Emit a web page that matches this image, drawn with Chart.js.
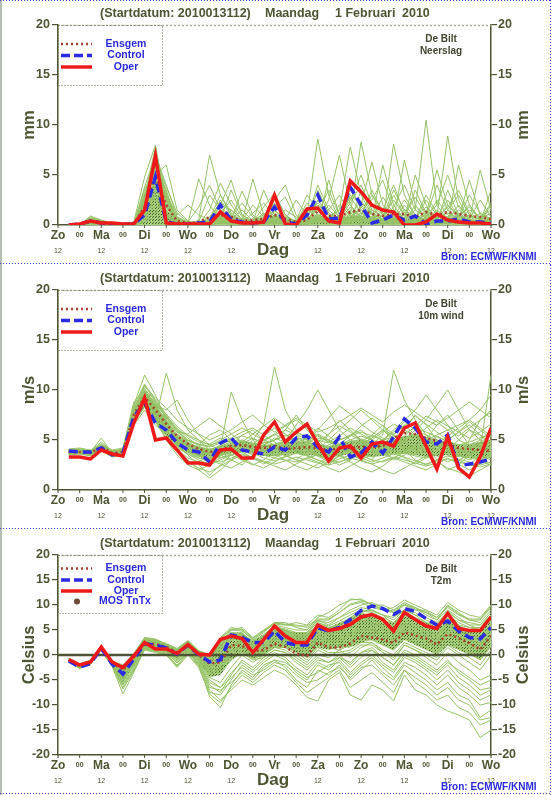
<!DOCTYPE html>
<html>
<head>
<meta charset="utf-8">
<script src="https://cdn.jsdelivr.net/npm/chart.js@4.4.1/dist/chart.umd.min.js"></script>
<style>
  html, body { margin: 0; padding: 0; background: #fff; }
  #wrap { position: relative; width: 554px; height: 795px; }
  canvas { position: absolute; left: 0; }
</style>
</head>
<body>
<div id="wrap">
  <canvas id="c1" width="554" height="265" style="top:0px"></canvas>
  <canvas id="c2" width="554" height="265" style="top:265px"></canvas>
  <canvas id="c3" width="554" height="265" style="top:530px"></canvas>
</div>
<script>
// =========================
// DATA (6-hourly, +6h .. +240h from 2010013112)
// =========================
const hours = [6,12,18,24,30,36,42,48,54,60,66,72,78,84,90,96,102,108,114,120,
               126,132,138,144,150,156,162,168,174,180,186,192,198,204,210,216,222,228,234,240];
const dayNames = ["Zo","Ma","Di","Wo","Do","Vr","Za","Zo","Ma","Di","Wo"];

const precipTicks = [0, 5, 10, 15, 20];
const windTicks   = [0, 5, 10, 15, 20];
const tempTicks   = [-20, -15, -10, -5, 0, 5, 10, 15, 20];

// ---- Neerslag (mm) ----
const precipOper    = [0,0.1,0.4,0.2,0.2,0.1,0.1,1.5,6.9,0.2,0.1,0.1,0.1,0.1,1.3,0.4,0.2,0.2,0.3,3.0,0.1,0,1.6,1.7,0.4,0.2,4.4,3.3,2.0,1.5,1.3,0,0,0.3,1.1,0.5,0.3,0.2,0.2,0.1];
const precipControl = [0,0.1,0.4,0.2,0.1,0.1,0.1,1.0,4.8,0.3,0.1,0.1,0.2,0.3,2.0,0.5,0.3,0.2,0.3,1.8,0.3,0.1,1.0,3.0,0.6,0.7,3.8,2.0,0.2,0.5,1.0,0.5,0.9,0.1,0.4,0.4,0.6,0.3,0.3,0.2];
const precipEnsgem  = [0,0,0.4,0.2,0.1,0,0.1,1.8,4.9,2.0,0.4,0.2,0.3,0.8,1.0,0.8,0.4,0.5,0.6,1.0,0.6,0.3,0.5,1.4,0.9,0.9,1.3,1.5,1.1,0.9,1.1,1.1,0.8,1.3,1.0,1.3,1.1,0.9,0.8,0.6];
const precipCoreLo  = [0,0,0,0,0,0,0,0,0,0,0,0,0,0,0,0,0,0,0,0,0,0,0,0,0,0,0,0,0,0,0,0,0,0,0,0,0,0,0,0];
const precipCoreHi  = [0.1,0.1,0.6,0.4,0.2,0.1,0.2,2.0,4.5,1.5,0.4,0.2,0.2,0.4,0.9,0.6,0.4,0.4,0.5,0.9,0.5,0.3,0.4,0.8,0.6,0.6,0.9,0.9,0.7,0.6,0.7,0.6,0.6,0.7,0.6,0.7,0.6,0.5,0.5,0.4];
const precipMembers = [
  [0,0,0.3,0.1,0.2,0,0,2.0,7.5,3.0,0.5,0.1,0,0.2,2.5,1.0,0.3,0.2,0.5,1.5,0.4,0.1,0.3,2.0,1.0,0.5,3.0,2.0,1.0,0.3,0.8,2.5,1.0,0.4,0.2,1.5,3.0,1.0,0.5,0.3],
  [0,0.1,0.6,0.3,0.1,0,0.1,3.5,6.0,1.2,0.2,0,0.1,1.5,4.2,2.0,0.5,0.2,0.1,0.8,0.2,0,1.0,8.6,3.0,0.5,0.2,1.0,3.5,1.2,0.5,0.3,2.0,0.6,0.2,0.3,0.8,2.0,0.6,0.2],
  [0,0,0.4,0.2,0.3,0.1,0,1.0,5.0,6.0,1.5,0.4,0.2,0.1,0.5,3.5,1.0,0.3,1.8,3.2,1.0,0.2,0.1,0.5,2.5,7.0,2.0,0.8,0.5,1.5,4.0,1.2,0.3,0.1,0.5,2.0,1.0,0.4,1.2,0.6],
  [0,0,0.2,0.1,0,0,0.3,4.8,8.0,2.0,0.3,0.1,0,0,0.2,0.5,3.4,1.0,0.2,0.1,0.5,2.5,1.0,0.3,0.8,1.5,7.8,3.0,1.0,0.2,0.1,0.5,1.5,10.5,2.0,0.5,0.3,0.2,0.8,1.5],
  [0,0,0.5,0.2,0.1,0,0,2.5,4.0,1.0,0.2,0,0.5,7.0,3.0,1.0,0.3,4.6,1.0,0.3,0.2,0.1,0.2,1.0,0.5,0.3,1.0,8.3,3.0,1.5,0.5,0.2,0.1,1.5,0.8,8.9,2.5,0.5,0.2,0.1],
  [0,0,0.8,0.4,0.2,0.1,0,1.5,3.0,0.8,0.1,0,0.2,0.4,1.0,0.5,0.2,0.1,0.3,2.5,4.0,1.0,0.3,0.2,4.5,1.0,0.5,2.0,6.3,2.0,0.8,0.4,0.2,0.5,2.5,1.0,0.5,0.3,0.2,3.5],
  [0,0,0.3,0.2,0.1,0,0,3.0,7.0,4.0,0.8,0.2,0,0.1,0.6,1.0,0.5,2.0,0.8,0.5,0.2,0.4,3.0,1.5,0.5,0.2,0.8,1.5,0.5,6.0,2.0,0.5,0.2,0.8,4.0,1.5,0.5,4.5,1.0,0.5],
  [0,0,0.2,0.1,0.1,0,0,0.5,2.0,1.5,0.5,0.2,4.6,2.0,0.5,0.2,0.1,0.3,3.5,1.0,0.3,0.1,0.2,0.8,0.4,2.0,1.0,0.5,0.3,0.2,8.1,3.0,1.0,0.5,0.3,0.2,6.0,2.0,0.5,0.2],
  [0,0,0.4,0.3,0.2,0.1,0,2.0,5.5,2.5,0.4,0.1,0,0.3,2.0,4.5,1.0,0.4,0.2,1.0,0.5,0.2,0.1,0.3,1.5,3.0,1.0,0.4,2.0,1.0,0.5,6.5,2.0,0.5,0.2,0.4,1.0,0.5,5.5,1.5],
  [0,0,0.6,0.2,0.1,0,0,1.8,6.5,1.5,0.3,0.1,0.1,0.2,0.8,0.4,0.2,0.5,1.0,2.0,0.8,0.3,0.5,3.5,1.2,0.5,4.0,1.5,0.5,0.3,1.5,0.6,5.0,2.0,0.5,0.2,0.3,1.5,0.8,0.4],
  [0,0,0.3,0.1,0,0,0,1.2,4.5,3.0,1.0,2.0,1.0,0.5,0.3,0.2,0.1,0.2,0.4,0.6,0.3,0.2,0.1,2.5,1.0,0.3,0.2,3.5,1.2,0.5,3.0,1.0,0.4,2.5,1.0,0.5,2.0,0.6,0.3,0.8],
  [0,0,0.9,0.5,0.2,0.1,0,2.8,7.8,2.0,0.2,0,0,0.1,1.5,0.8,0.3,0.1,0.2,3.0,1.0,0.3,0.2,0.5,0.3,0.8,2.5,5.0,2.0,0.5,0.2,0.1,0.5,1.0,5.5,2.0,0.8,0.3,0.2,0.1],
  [0,0,0.2,0.1,0.1,0,0,1.0,3.5,2.0,0.6,0.2,0.3,3.0,1.5,0.5,0.2,0.1,0.3,0.5,0.2,0.1,1.5,0.8,0.4,0.2,0.4,1.0,3.0,1.0,0.5,0.3,0.2,0.6,0.3,3.5,1.0,0.4,0.3,2.0],
  [0,0.1,0.5,0.2,0.1,0,0,2.2,6.0,3.5,0.3,0.1,0,0.2,0.5,0.2,0.1,0.3,1.2,0.4,0.2,0.1,0.3,1.8,0.6,0.3,1.5,0.8,0.3,0.2,0.5,2.0,0.8,0.3,0.2,0.4,1.2,0.5,0.2,0.2],
  [0,0,0.4,0.2,0.1,0,0,0.8,2.5,0.8,0.2,0,0,0.1,0.3,1.5,0.5,0.2,0.1,0.2,0.1,0,0.2,0.5,0.3,1.0,0.5,0.3,0.8,0.4,0.2,0.4,0.3,0.8,0.4,0.3,0.5,0.3,0.2,0.1],
  [0,0,0.3,0.1,0.1,0,0,1.5,5.0,1.0,0.2,0,0.1,0.5,1.0,0.3,0.1,0.1,0.4,1.0,0.3,0.2,0.5,1.0,0.5,0.3,1.2,0.6,0.4,0.3,1.0,0.5,0.3,1.2,0.6,0.5,1.0,0.4,0.2,0.1],
  [0,0,0.2,0.1,0,0,0,3.2,4.5,2.0,0.5,0.1,0,0.1,0.4,0.2,0.1,0.6,0.2,0.3,0.2,0.1,0.4,0.6,0.3,0.2,0.6,1.2,0.5,0.4,0.6,0.3,0.2,0.4,0.5,0.2,0.4,0.6,0.3,0.2],
  [0,0,0.5,0.3,0.1,0,0,2.0,6.8,2.5,0.4,0.1,0,0,0.2,0.6,1.5,0.4,0.2,0.4,0.6,0.3,0.2,0.4,0.8,0.4,0.3,0.6,0.3,1.0,0.5,0.3,0.6,0.3,0.2,0.8,0.4,0.3,0.5,0.3],
  [0,0,0.3,0.2,0.1,0,0,1.0,4.0,1.8,0.3,0.1,0.1,0.3,0.8,0.4,0.2,0.2,0.3,0.6,0.3,0.2,0.3,0.8,0.4,0.6,0.4,0.3,0.5,0.6,0.3,0.4,0.5,0.3,0.6,0.4,0.3,0.2,0.4,0.3],
  [0,0,0.1,0.1,0,0,0,0.3,1.5,0.5,0.1,0,0,0.1,0.2,0.1,0,0.1,0.1,0.2,0.1,0,0.1,0.3,0.2,0.1,0.2,0.1,0.3,0.2,0.1,0.2,0.1,0.2,0.1,0.2,0.1,0.1,0.2,0.1],
  [0,0,0.5,0.3,0.2,0,0,2.4,7.2,1.8,0.3,0.1,0.2,0.6,3.0,1.2,0.4,0.3,0.8,2.2,0.6,0.2,0.6,4.0,1.5,0.6,2.2,4.0,1.5,0.8,2.5,1.0,0.6,3.0,1.2,0.8,1.5,0.6,2.5,0.8],
  [0,0,0.3,0.2,0.1,0,0,1.6,5.8,2.8,0.6,0.2,0.1,0.3,1.2,2.5,0.8,0.2,0.5,1.8,2.8,0.5,0.2,1.2,3.5,1.0,0.6,1.8,2.5,4.5,1.5,0.6,3.5,1.2,0.6,1.8,3.5,1.2,0.5,0.3],
  [0,0,0.6,0.3,0.1,0,0,1.2,4.2,2.2,0.8,0.3,1.8,4.0,1.5,0.6,0.3,0.5,0.8,0.6,0.3,0.2,0.8,2.2,1.0,0.8,2.8,1.2,0.8,0.5,1.8,4.0,1.5,0.8,2.0,5.0,1.8,0.8,0.6,1.2],
  [0,0,0.2,0.1,0,0,0,2.6,6.4,3.2,0.5,0.1,0,0.2,0.8,0.5,0.3,1.2,2.2,0.8,0.3,0.1,0.4,1.0,0.6,1.5,3.5,1.8,0.6,2.8,1.2,0.5,0.8,1.8,0.7,1.2,0.6,3.0,1.2,0.5],
  [0,0,0.4,0.2,0.1,0,0.1,3.8,7.0,2.2,0.4,0.1,0.1,0.4,1.8,0.8,0.3,0.2,0.6,1.2,0.5,0.3,2.2,1.0,0.5,0.3,1.0,2.4,1.0,0.6,0.4,1.5,0.8,0.5,1.5,0.6,0.4,1.0,0.5,2.2],
  [0,0,0.7,0.4,0.2,0.1,0,1.4,4.6,1.2,0.2,0.1,0.2,0.8,2.2,1.5,0.6,0.3,0.2,0.5,1.5,0.8,0.3,0.6,2.0,0.8,0.5,0.8,1.5,0.8,3.5,1.5,0.6,0.4,0.8,2.5,0.9,0.4,0.3,0.6],
  [0,0,0.3,0.2,0.1,0,0,2.1,5.3,2.6,0.7,0.2,0.1,0.2,0.6,0.8,2.2,0.8,0.3,0.9,0.5,0.2,0.5,1.5,0.7,0.4,1.8,0.9,0.5,0.3,0.6,1.0,2.8,1.0,0.5,0.3,0.8,1.8,0.7,0.3],
  [0,0,0.5,0.3,0.2,0.1,0,1.7,6.1,2.0,0.4,0.1,0,0.1,0.5,0.3,0.2,0.4,0.6,1.4,0.8,0.4,0.3,0.9,0.5,0.3,0.7,0.5,1.2,0.6,0.4,0.8,0.5,1.4,0.6,0.4,0.9,0.5,0.3,0.7],
  [0,0,0.2,0.1,0,0,0,0.6,3.0,1.0,0.2,0,0,0.1,0.4,0.2,0.1,0.2,0.3,0.4,0.2,0.1,0.2,0.5,0.3,0.2,0.4,0.7,0.3,0.2,0.5,0.3,0.2,0.4,0.3,0.5,0.3,0.2,0.4,0.2],
  [0,0,0.4,0.2,0.1,0,0,2.9,6.6,3.8,1.2,0.3,0.1,0.2,1.0,0.6,0.3,0.2,0.4,0.8,0.4,0.2,0.3,0.7,0.4,0.3,0.5,0.9,0.6,0.4,0.7,0.5,0.3,0.6,0.4,0.7,0.5,0.4,0.3,0.5]
];

// ---- 10m wind (m/s) ----
const windOper    = [3.3,3.3,3.1,4.0,3.6,3.4,6.7,9.2,5.0,5.2,4.0,2.7,2.7,2.5,4.0,4.1,3.2,3.2,5.5,6.8,4.8,5.8,6.6,4.6,2.9,4.2,4.4,3.2,4.6,4.8,4.4,6.2,6.7,4.4,2.1,5.3,2.2,1.3,3.3,6.2];
const windControl = [3.9,3.8,3.8,4.2,3.5,3.7,7.3,8.7,6.7,6.0,4.7,4.0,3.8,2.8,4.7,5.2,4.0,3.8,3.6,4.3,4.0,5.2,5.4,4.3,3.8,5.3,3.3,3.7,4.8,3.7,5.3,7.1,6.2,4.8,4.6,5.5,2.4,2.6,2.8,3.1];
const windEnsgem  = [3.8,3.8,3.7,4.3,3.7,3.8,7.5,9.3,8.0,6.6,5.4,4.6,4.1,3.8,4.0,4.4,4.5,4.3,4.2,4.4,4.1,4.2,4.3,4.2,4.0,4.2,4.2,4.3,4.3,4.4,5.2,5.7,5.6,5.2,4.9,4.6,4.2,4.1,4.0,3.9];
const windCoreLo  = [3.6,3.6,3.5,3.9,3.4,3.5,6.8,8.2,6.8,5.4,4.3,3.7,3.3,3.1,3.4,3.7,3.8,3.6,3.4,3.4,3.5,3.6,3.5,3.4,3.2,3.4,3.6,3.5,3.3,3.4,3.6,3.6,3.5,3.3,3.4,3.5,3.3,3.2,3.2,3.3];
const windCoreHi  = [4.0,4.1,3.9,4.5,3.9,4.0,8.3,10.0,8.6,7.0,5.4,4.7,4.3,4.1,4.4,4.7,4.9,4.7,4.5,4.6,4.8,4.9,4.8,4.6,4.4,4.6,4.9,5.0,4.8,4.7,5.0,5.4,5.6,5.3,5.0,4.8,4.6,4.6,4.8,5.0];
const windMembers = [
  [3.8,3.9,3.7,4.3,3.6,3.8,7.5,9.8,8.0,6.5,5.5,4.8,4.2,3.9,4.5,5.0,4.2,3.8,4.5,5.2,4.8,4.0,4.5,5.5,4.8,4.2,3.8,4.5,5.2,6.0,5.5,4.8,4.2,3.9,4.5,5.0,5.8,6.5,5.5,4.8],
  [4.0,4.1,3.9,4.8,3.9,4.0,8.5,11.5,9.5,7.0,5.0,4.0,3.5,3.0,3.5,4.5,5.5,6.0,5.0,4.5,3.5,3.0,3.8,4.5,5.5,7.0,6.0,5.0,4.0,3.5,4.5,6.0,7.5,6.5,5.0,4.0,3.0,2.5,3.5,4.5],
  [3.6,3.7,3.5,4.0,3.4,3.6,6.8,8.5,7.0,11.7,8.0,6.0,5.0,4.0,3.5,3.0,2.5,3.5,4.5,5.0,6.0,7.5,6.0,5.0,4.0,3.5,3.0,4.0,5.5,6.5,5.0,4.0,3.5,5.0,6.5,7.5,6.0,4.5,3.5,3.0],
  [3.9,4.0,3.8,5.2,3.7,3.9,8.0,10.5,8.8,6.0,4.5,3.5,2.5,1.5,2.5,3.5,4.0,5.0,6.5,12.3,8.0,6.0,5.0,4.0,3.5,4.5,5.5,6.0,5.0,4.0,3.0,3.5,4.5,5.0,4.5,4.0,3.5,5.0,7.0,8.0],
  [3.7,3.8,3.6,4.2,3.5,3.7,7.2,9.2,8.5,8.0,9.0,7.0,5.5,4.5,4.0,3.5,3.0,2.5,3.0,4.0,4.5,5.0,4.5,3.5,3.0,2.5,3.0,4.0,4.5,5.0,6.0,7.0,8.0,9.5,8.0,6.5,5.0,4.5,5.0,6.0],
  [4.1,4.2,4.0,4.5,4.0,4.2,8.8,10.0,9.0,7.5,6.0,5.0,4.5,5.5,6.0,5.0,4.0,3.5,3.8,4.2,4.5,4.0,3.5,3.0,2.5,3.5,4.0,3.5,3.0,4.5,5.5,6.5,5.5,4.5,3.0,2.0,2.5,3.5,4.0,3.5],
  [3.5,3.6,3.4,3.9,3.3,3.5,6.5,8.0,6.5,5.5,4.0,3.0,2.0,1.2,2.0,3.0,4.0,4.5,5.0,5.5,6.0,5.5,4.5,4.0,5.0,6.0,7.0,8.0,7.0,6.0,5.0,4.0,3.0,2.5,3.0,4.0,5.0,6.0,5.5,4.5],
  [3.8,3.9,3.8,4.4,3.8,3.9,7.8,9.5,8.0,6.8,5.2,4.5,4.0,3.8,4.2,9.8,7.0,5.0,4.0,3.5,3.8,4.2,4.8,5.2,5.0,4.5,4.2,4.8,5.5,5.0,4.5,5.0,6.0,5.5,5.0,4.5,4.0,3.5,3.0,2.5],
  [3.9,3.9,3.7,4.1,3.7,3.8,7.0,9.0,7.5,6.0,4.8,4.0,3.5,3.2,3.8,4.2,4.5,4.0,3.5,4.0,5.0,6.5,8.0,10.0,8.0,6.0,5.0,4.5,4.0,3.5,4.0,5.0,6.0,7.0,8.5,10.0,8.0,6.0,5.0,4.0],
  [3.6,3.8,3.6,4.0,3.5,3.6,7.4,8.8,8.2,7.2,6.0,5.5,5.0,4.5,4.8,5.2,5.8,6.2,5.5,4.8,4.2,3.8,3.5,4.0,4.5,5.0,5.5,5.0,4.5,4.0,3.5,4.0,4.5,5.0,5.5,6.0,6.5,7.0,8.0,9.5],
  [4.0,4.0,3.9,4.6,3.9,4.1,8.2,10.2,8.5,6.5,5.0,4.2,3.8,3.5,3.2,3.5,3.8,4.2,4.5,5.0,5.5,5.0,4.2,3.5,3.0,2.8,3.2,3.8,4.5,5.5,12.0,9.0,7.0,5.5,4.5,4.0,3.5,3.0,3.5,4.5],
  [3.7,3.7,3.6,4.2,3.6,3.7,7.0,8.5,7.0,5.0,3.5,2.5,2.0,2.5,3.0,3.5,4.0,3.8,3.5,3.2,3.0,2.8,3.2,3.5,3.8,4.2,4.0,3.5,3.0,2.8,3.2,3.8,4.2,4.5,4.0,3.5,3.0,3.5,4.0,11.5],
  [3.8,3.8,3.7,4.3,3.7,3.8,7.6,9.6,8.2,6.4,5.3,4.6,4.2,4.0,4.4,4.8,5.0,4.6,4.2,4.5,4.9,5.2,5.0,4.6,4.3,4.6,5.0,5.4,5.0,4.6,4.8,5.2,5.6,5.2,4.8,4.4,4.0,4.2,4.6,5.0],
  [3.9,4.0,3.8,4.4,3.8,3.9,7.3,9.3,7.8,6.2,4.9,4.2,3.8,3.6,4.0,4.3,4.6,4.4,4.0,3.8,4.1,4.5,4.2,3.9,3.7,4.0,4.4,4.1,3.8,4.2,4.6,4.3,4.0,3.7,4.1,4.5,4.2,3.9,3.6,3.8],
  [3.6,3.7,3.5,4.1,3.5,3.6,6.9,8.7,7.2,5.8,4.6,3.9,3.4,3.1,3.5,3.9,4.2,4.0,3.6,3.4,3.7,4.0,3.8,3.4,3.2,3.6,3.9,3.6,3.3,3.7,4.0,3.7,3.4,3.2,3.6,3.9,3.5,3.2,3.0,3.3],
  [4.0,4.1,3.9,4.5,3.9,4.0,8.1,9.9,8.4,6.9,5.6,4.9,4.5,4.3,4.7,5.1,5.4,5.1,4.7,5.0,5.4,5.7,5.4,5.0,4.7,5.0,5.4,5.8,5.4,5.0,5.3,5.7,6.2,5.8,5.3,4.9,4.5,4.8,5.2,5.6],
  [3.8,3.9,3.8,4.2,3.7,3.8,7.7,9.4,7.6,5.9,4.4,3.6,3.0,2.6,3.2,3.7,4.1,3.7,3.2,2.9,3.3,3.7,3.4,3.0,2.7,3.1,3.5,3.2,2.8,3.2,3.6,3.3,2.9,2.6,3.0,3.4,3.1,2.8,2.5,2.8],
  [3.7,3.8,3.6,4.1,3.6,3.7,7.1,9.1,7.9,6.6,5.4,4.7,4.3,4.1,4.3,4.6,4.9,4.7,4.4,4.6,4.9,5.1,4.8,4.4,4.2,4.4,4.8,5.1,4.8,4.4,4.7,5.0,5.4,5.0,4.6,4.3,4.0,4.3,4.7,5.0],
  [3.9,3.9,3.8,4.3,3.8,3.9,7.5,9.6,8.6,7.3,6.0,4.8,3.8,3.0,2.8,3.2,3.6,3.3,2.9,2.6,2.9,3.3,3.0,2.7,2.5,2.8,3.2,2.9,2.6,2.9,3.3,3.0,2.7,2.4,2.7,3.1,2.8,2.5,2.3,2.6],
  [3.8,3.8,3.7,4.2,3.7,3.8,7.4,9.2,8.0,6.3,5.1,4.4,3.9,3.7,4.1,4.4,4.7,4.4,4.0,4.2,4.5,4.8,4.5,4.1,3.9,4.2,4.6,4.9,4.5,4.1,4.4,4.8,5.2,4.8,4.4,4.1,3.8,4.1,4.4,4.7],
  [3.7,3.8,3.6,4.1,3.6,3.7,7.2,8.9,7.4,5.6,3.8,2.8,2.2,1.8,2.4,3.0,3.5,3.2,2.8,2.4,2.0,2.6,3.2,2.8,2.2,1.8,2.4,3.0,2.6,2.0,1.6,2.2,2.8,3.4,2.8,2.2,1.8,1.4,2.0,2.6],
  [4.0,4.0,3.9,4.4,3.9,4.0,8.0,10.4,9.2,8.2,7.0,6.2,5.6,5.0,5.5,6.0,6.8,7.5,6.5,5.8,6.5,7.2,6.5,5.8,6.2,6.8,7.5,8.2,7.5,6.8,7.8,8.5,7.8,7.0,6.5,7.2,8.0,8.8,8.0,7.2],
  [3.8,3.9,3.7,4.2,3.7,3.8,7.6,9.5,8.4,7.0,5.8,5.0,4.6,4.4,5.0,5.6,6.2,5.6,5.0,5.6,6.4,7.0,6.2,5.4,4.8,5.4,6.2,5.6,5.0,5.8,6.6,6.0,5.4,6.2,7.0,6.4,5.8,5.2,5.8,6.6],
  [3.6,3.7,3.5,4.0,3.5,3.6,6.9,8.6,7.0,5.4,4.0,3.2,2.8,3.5,4.2,3.8,3.2,2.6,2.2,2.8,3.4,3.0,2.6,2.2,2.8,3.4,2.8,2.2,1.8,2.4,3.2,2.8,2.4,2.0,2.6,3.2,2.6,2.0,2.6,3.4],
  [3.9,4.0,3.8,4.3,3.8,3.9,7.8,9.7,8.6,7.4,6.2,5.2,4.4,3.8,3.4,4.0,4.8,5.6,6.4,7.2,6.4,5.6,5.0,6.0,7.2,8.4,7.6,6.6,5.8,5.2,4.6,5.4,6.4,7.4,6.8,6.0,5.4,6.2,7.0,7.8],
  [3.7,3.8,3.6,4.2,3.6,3.7,7.3,9.0,7.7,6.1,4.6,3.8,3.2,2.8,3.4,4.0,4.6,5.2,4.6,4.0,3.4,4.0,4.8,5.6,5.0,4.2,3.6,4.4,5.2,6.0,5.2,4.4,3.8,4.6,5.4,4.8,4.2,3.6,4.2,4.8],
  [3.8,3.9,3.7,4.3,3.7,3.8,7.4,9.4,8.2,6.6,5.0,4.2,3.6,3.2,3.6,4.2,3.8,3.2,2.6,3.2,3.8,4.6,4.0,3.4,2.8,3.4,4.2,4.8,4.2,3.6,3.2,3.8,4.6,4.0,3.4,2.8,3.4,4.2,4.8,5.4],
  [4.0,4.1,3.9,4.6,3.9,4.0,8.4,10.6,9.0,7.2,5.8,5.6,6.4,7.2,6.4,5.6,4.8,4.2,4.8,5.6,5.0,4.4,5.2,6.2,5.4,4.6,5.4,6.4,7.2,6.4,5.6,6.4,7.4,6.6,5.8,5.0,5.8,6.8,6.0,5.2],
  [3.6,3.6,3.5,4.0,3.4,3.5,6.7,8.3,6.8,5.2,4.2,3.6,3.2,3.0,2.6,2.2,2.8,3.4,4.0,3.6,3.0,2.4,2.0,2.6,3.4,4.2,3.6,3.0,3.6,4.4,3.8,3.2,2.6,3.2,4.0,4.8,4.2,3.6,3.0,3.6],
  [3.9,3.9,3.8,4.4,3.8,3.9,7.7,9.8,8.8,7.6,6.4,5.4,4.8,4.6,5.2,4.8,4.2,4.6,5.4,6.2,5.6,4.8,4.2,4.8,5.6,6.4,5.8,5.0,4.4,5.0,5.8,6.8,6.0,5.2,4.6,5.4,6.2,7.0,6.2,5.4]
];

// ---- T2m (Celsius) ----
const tempOper    = [-0.9,-2.0,-1.4,1.6,-1.4,-2.5,-0.2,2.5,1.2,1.2,0.3,2.1,0.2,0.0,3.1,3.8,3.3,0.5,3.1,5.8,3.8,2.5,2.5,6.0,4.9,5.3,6.1,7.6,8.1,7.1,4.8,8.5,7.1,5.8,5.3,8.3,5.3,4.9,4.9,7.6];
const tempControl = [-1.2,-2.4,-1.7,1.3,-1.8,-3.8,-0.8,2.2,2.0,1.4,0.2,2.0,0.1,-1.4,-1.0,4.0,3.5,2.5,2.5,4.8,2.5,2.0,2.0,5.5,4.8,5.5,7.1,8.9,9.8,9.3,8.1,9.3,8.7,7.3,6.0,6.8,4.8,3.5,3.2,5.5];
const tempEnsgem  = [-1.0,-2.2,-1.5,1.4,-1.6,-3.0,-0.5,2.3,2.2,1.6,0.5,1.8,0.0,-1.7,-1.5,2.0,1.8,0.8,1.0,2.3,1.6,0.3,-0.2,2.5,1.5,1.5,2.3,3.8,3.5,3.1,2.4,4.5,3.9,3.3,2.1,4.2,3.4,2.4,1.1,3.8];
const tempCoreLo  = [-1.3,-2.6,-1.8,1.1,-2.1,-5.5,-2.0,1.4,1.0,0.6,-0.8,0.9,-1.2,-4.5,-4.0,-1.0,0.5,-0.8,0.2,1.5,1.5,0.5,-0.5,1.5,1.0,1.5,1.5,2.5,3.0,2.0,1.0,3.0,2.0,1.0,0.0,2.0,1.0,0.0,-1.0,1.5];
const tempCoreHi  = [-0.7,-1.9,-1.2,1.7,-1.3,-2.4,0.2,3.2,2.9,2.1,1.1,2.7,0.7,-0.2,2.8,4.5,4.5,2.8,4.2,6.0,5.0,4.5,4.5,6.0,5.5,6.5,7.5,8.5,8.0,7.0,6.5,8.0,7.0,6.5,5.5,7.5,6.0,5.0,5.0,7.5];
const tempMembers = [
  [-0.8,-2.0,-1.3,1.5,-1.5,-2.5,-0.3,2.6,1.5,1.3,0.4,2.2,0.3,-0.2,3.0,3.9,3.5,0.8,3.3,5.8,4.5,3.0,3.2,6.5,5.5,6.0,7.0,8.5,9.0,8.0,6.0,9.0,8.0,6.5,6.0,8.5,6.0,5.5,5.5,8.0],
  [-1.2,-2.5,-1.8,1.2,-2.0,-4.5,-1.0,2.0,1.8,1.2,0.0,1.8,-0.5,-2.5,-1.5,1.5,2.5,1.0,1.5,3.0,3.5,2.0,0.5,3.5,2.5,2.0,3.0,5.0,5.5,4.0,3.0,5.5,4.5,3.5,2.5,5.0,3.5,3.0,2.0,4.5],
  [-1.0,-2.2,-1.5,1.4,-1.7,-3.5,-0.8,2.4,2.0,1.5,0.5,2.0,0.0,-1.5,0.5,3.0,3.5,2.5,3.0,4.5,4.0,3.5,4.5,7.0,6.0,7.5,9.0,10.0,10.5,9.5,8.5,10.0,9.5,8.0,7.0,9.0,7.5,6.0,5.0,7.0],
  [-1.4,-2.7,-1.9,1.0,-2.3,-7.8,-3.5,1.2,0.8,0.2,-2.0,0.5,-2.0,-8.3,-10.5,-6.0,-3.0,-4.5,-2.0,-1.0,-2.5,-5.0,-6.5,-3.0,-4.0,-2.0,-5.0,-3.0,-1.0,-3.5,-5.0,-2.0,-3.5,-5.0,-7.0,-5.5,-8.0,-9.0,-12.5,-11.0],
  [-0.6,-1.8,-1.0,1.8,-1.2,-2.0,0.3,3.5,3.2,2.2,1.2,2.8,0.8,0.0,3.5,5.5,5.0,3.0,4.5,6.5,6.0,6.5,6.0,8.0,7.5,9.0,11.2,11.0,10.0,9.0,9.5,11.0,10.0,9.0,8.0,10.5,9.0,8.0,7.5,10.0],
  [-1.1,-2.3,-1.6,1.3,-1.9,-5.5,-2.0,1.6,1.0,0.8,-1.0,1.0,-1.5,-6.0,-7.5,-4.0,-1.0,-2.5,-0.5,1.0,0.5,-1.5,-3.0,-1.0,-1.5,0.0,-2.0,0.5,1.5,-0.5,-2.0,1.0,0.0,-1.5,-3.0,-1.0,-3.5,-5.0,-7.0,-6.5],
  [-0.9,-2.1,-1.4,1.5,-1.6,-3.0,-0.5,2.8,2.5,1.8,0.8,2.4,0.5,-1.0,1.5,4.0,4.5,2.0,3.5,5.5,5.0,4.0,4.0,6.0,5.0,5.5,6.5,7.5,7.0,6.0,5.0,7.0,6.0,5.0,4.0,6.5,5.0,4.0,3.5,6.0],
  [-1.3,-2.6,-1.7,1.1,-2.1,-6.5,-2.8,1.4,1.2,0.5,-1.5,0.8,-1.8,-7.0,-9.0,-7.0,-5.0,-6.0,-4.5,-3.0,-4.0,-6.0,-8.5,-9.2,-5.0,-3.5,-8.0,-9.0,-6.0,-7.0,-9.2,-4.0,-7.0,-8.0,-10.0,-11.2,-12.0,-13.0,-16.5,-15.0],
  [-1.0,-2.3,-1.5,1.3,-1.8,-4.0,-1.2,2.2,1.6,1.0,0.2,1.5,-0.8,-3.5,-3.0,0.5,1.5,-0.5,0.5,2.0,2.5,1.0,-0.5,2.5,1.5,1.0,2.0,3.5,3.0,2.0,1.0,3.5,2.5,1.5,0.5,3.0,1.5,0.5,-1.0,2.0],
  [-0.7,-1.9,-1.2,1.6,-1.4,-2.8,0.0,3.2,2.8,2.0,1.0,2.6,0.6,-0.5,2.5,5.0,5.5,3.5,5.0,6.5,6.5,5.5,5.0,7.5,8.5,10.0,11.0,11.2,10.0,10.0,9.0,10.5,9.5,8.5,7.0,10.0,8.5,7.0,6.5,9.0],
  [-1.2,-2.4,-1.6,1.2,-2.0,-5.0,-1.5,1.8,1.4,0.9,-0.5,1.2,-1.0,-4.5,-5.5,-2.5,0.0,-1.5,0.0,1.5,1.0,-0.5,-2.0,0.0,-0.5,1.0,-0.5,1.5,2.5,0.5,-1.0,2.0,1.0,-0.5,-2.0,0.5,-1.5,-3.0,-5.0,-4.0],
  [-0.9,-2.0,-1.3,1.6,-1.5,-2.6,-0.2,3.0,2.6,1.6,0.6,2.5,0.4,-0.3,2.0,3.5,4.0,1.5,2.8,5.0,4.5,3.5,3.5,5.5,4.5,5.0,6.0,7.0,6.5,5.5,4.5,6.5,5.5,4.5,3.5,6.0,4.5,3.5,3.0,5.5],
  [-1.1,-2.2,-1.5,1.4,-1.8,-3.2,-0.6,2.5,2.2,1.4,0.3,1.9,-0.2,-2.0,-0.5,2.0,3.0,1.0,2.0,4.0,3.5,2.5,2.0,4.5,3.5,3.5,4.5,6.0,6.0,5.0,4.0,6.0,5.0,4.0,3.0,5.5,4.0,3.0,2.5,5.0],
  [-1.3,-2.6,-1.8,1.0,-2.2,-6.0,-3.0,1.0,0.5,0.0,-2.5,0.0,-2.5,-7.5,-8.0,-5.0,-2.0,-3.5,-1.5,0.0,-1.0,-3.5,-5.0,-2.0,-3.0,-1.0,-3.5,-1.5,0.0,-2.0,-3.5,-0.5,-1.5,-3.0,-5.0,-3.0,-5.5,-7.0,-9.0,-8.0],
  [-0.8,-1.9,-1.1,1.7,-1.3,-2.2,0.2,3.4,3.0,2.3,1.3,2.9,0.9,0.0,3.2,5.0,4.8,3.2,4.8,6.3,6.2,6.0,5.5,7.0,7.0,8.5,10.0,10.5,9.5,9.0,8.5,10.0,9.0,8.5,7.5,9.5,8.0,7.0,7.0,9.5],
  [-1.0,-2.1,-1.4,1.5,-1.6,-3.3,-0.7,2.6,2.3,1.5,0.4,2.0,0.0,-1.2,1.0,3.2,3.8,1.8,2.5,4.8,4.2,3.0,2.8,5.0,4.0,4.5,5.5,6.5,6.5,5.5,4.5,6.5,5.5,4.5,3.5,6.0,4.5,3.5,3.0,5.5],
  [-1.2,-2.5,-1.7,1.1,-2.0,-4.8,-1.8,1.7,1.3,0.7,-0.8,1.0,-1.2,-5.0,-6.5,-3.5,-1.5,-3.0,-1.0,0.5,-0.5,-2.5,-4.0,-1.5,-2.5,-0.5,-2.5,-0.5,1.0,-1.5,-3.0,0.0,-1.0,-2.5,-4.0,-2.0,-4.5,-6.0,-8.0,-7.0],
  [-0.9,-2.0,-1.2,1.6,-1.4,-2.4,0.1,3.1,2.9,2.1,1.1,2.7,0.7,-0.2,2.8,4.5,4.2,2.8,4.0,6.0,5.5,5.0,5.0,6.8,6.5,7.5,8.5,9.5,9.0,8.0,7.5,9.0,8.0,7.5,6.5,8.5,7.0,6.0,6.0,8.5],
  [-1.1,-2.3,-1.6,1.3,-1.9,-4.2,-1.0,2.1,1.7,1.1,0.0,1.6,-0.6,-3.0,-2.0,1.0,2.0,0.5,1.0,2.5,3.0,1.5,0.5,3.0,2.0,1.5,2.5,4.0,4.0,3.0,2.0,4.5,3.5,2.5,1.5,4.0,2.5,1.5,0.5,3.0],
  [-1.0,-2.2,-1.5,1.4,-1.7,-3.6,-0.9,2.3,1.9,1.2,0.1,1.7,-0.4,-2.8,-1.0,1.5,2.8,0.2,1.8,3.5,3.0,2.0,1.0,4.0,3.0,2.5,4.0,5.5,5.0,4.0,3.0,5.0,4.0,3.0,2.0,4.5,3.0,2.0,1.0,3.5],
  [-1.1,-2.4,-1.6,1.2,-1.9,-4.6,-1.4,1.9,1.5,1.0,-0.2,1.4,-0.8,-3.8,-3.5,-1.0,0.5,-1.0,-0.5,1.0,0.5,-1.0,-2.5,-0.5,-1.5,-0.5,-1.5,0.5,1.0,-0.5,-2.0,0.5,-0.5,-2.0,-3.5,-1.5,-3.0,-4.5,-6.0,-5.0],
  [-1.2,-2.5,-1.7,1.1,-2.0,-5.2,-2.2,1.5,1.1,0.6,-1.2,0.7,-1.5,-5.5,-6.5,-4.5,-2.5,-4.0,-3.0,-1.5,-2.0,-4.0,-5.5,-5.0,-3.5,-2.5,-4.5,-2.5,-2.0,-4.0,-6.0,-3.0,-4.5,-6.0,-8.0,-6.5,-9.0,-10.0,-13.0,-12.5],
  [-0.9,-2.1,-1.4,1.5,-1.6,-3.1,-0.6,2.7,2.4,1.7,0.7,2.3,0.4,-0.8,1.8,3.6,3.9,1.6,3.0,5.2,4.8,3.8,3.8,6.2,5.2,6.0,7.5,8.8,8.5,7.5,6.5,8.5,7.5,6.5,5.5,8.0,6.5,5.5,5.0,7.5],
  [-1.0,-2.3,-1.5,1.3,-1.8,-3.8,-1.1,2.2,1.8,1.1,0.1,1.6,-0.6,-3.2,-2.5,0.8,1.8,0.0,0.8,2.2,2.0,0.5,-1.0,1.5,0.5,0.5,1.0,2.5,2.5,1.0,0.0,2.5,1.5,0.5,-0.5,2.0,0.5,-0.5,-2.0,1.0],
  [-1.3,-2.6,-1.8,1.0,-2.2,-6.8,-3.2,1.1,0.7,0.1,-2.2,0.2,-2.2,-7.8,-9.5,-6.5,-4.0,-5.5,-3.5,-2.0,-3.0,-5.5,-7.5,-6.0,-4.5,-3.0,-6.5,-5.0,-3.5,-5.5,-7.5,-3.0,-5.5,-7.0,-9.0,-8.0,-10.5,-11.5,-14.0,-13.0],
  [-0.8,-2.0,-1.2,1.6,-1.5,-2.7,-0.1,3.0,2.7,1.9,0.9,2.6,0.6,-0.4,2.3,4.2,4.4,2.2,3.8,5.6,5.2,4.5,4.5,6.5,5.8,6.8,8.0,9.0,8.8,8.0,7.0,9.0,8.5,7.0,6.0,8.8,7.0,6.5,6.0,8.0],
  [-1.1,-2.3,-1.6,1.3,-1.9,-4.4,-1.2,2.0,1.6,1.0,-0.1,1.5,-0.7,-3.5,-3.0,0.0,1.0,-0.8,0.0,1.5,1.5,0.0,-1.5,1.0,0.0,0.0,0.5,2.0,2.0,0.5,-0.5,2.0,1.0,0.0,-1.0,1.5,0.0,-1.5,-3.0,0.0],
  [-0.7,-1.8,-1.1,1.7,-1.3,-2.3,0.2,3.3,3.1,2.2,1.2,2.8,0.8,0.0,3.3,5.2,5.2,3.3,4.8,6.2,6.0,5.8,5.8,7.2,7.2,8.5,10.2,10.8,10.2,9.2,8.8,10.2,9.2,8.8,7.5,9.8,8.2,7.2,7.2,9.8],
  [-1.2,-2.5,-1.7,1.1,-2.1,-5.8,-2.5,1.3,0.9,0.4,-1.6,0.6,-1.8,-6.5,-7.0,-5.5,-3.5,-5.0,-2.5,-1.0,-1.5,-3.0,-4.5,-3.5,-2.0,-1.5,-4.0,-2.0,-0.5,-2.5,-4.5,-1.5,-2.5,-4.0,-6.0,-4.0,-6.5,-8.0,-10.0,-9.5],
  [-1.0,-2.2,-1.5,1.4,-1.7,-3.4,-0.8,2.4,2.1,1.3,0.3,1.9,-0.3,-2.2,-0.8,1.8,2.6,0.8,1.6,3.2,3.2,2.2,1.5,3.5,2.8,3.0,4.0,5.0,5.0,4.0,3.0,4.8,4.0,3.0,2.0,4.5,3.0,2.0,1.5,4.0]
];

// =========================
// STYLE
// =========================
const FONT  = "'Liberation Sans', Arial, Helvetica, sans-serif";
const OLIVE = "#4d5632";
const GREEN = "#96c366";
const RED   = "#ee1a1a";
const BLUE  = "#2b2be6";
const ENS   = "#a8412f";
const LBLUE = "#2a2ae0";

function stipple() {
  const c = document.createElement("canvas");
  c.width = 3; c.height = 3;
  const g = c.getContext("2d");
  g.fillStyle = "#a8cf7e";
  g.fillRect(0, 0, 3, 3);
  g.fillStyle = "#46622a";
  g.fillRect(0, 0, 1, 1);
  g.fillRect(2, 1, 1, 1);
  return g.createPattern(c, "repeat");
}

const pts = vals => hours.map((h, i) => ({ x: h, y: vals[i] }));

function txt(ctx, s, x, y, font, color, align) {
  ctx.font = font;
  ctx.fillStyle = color;
  ctx.textAlign = align || "center";
  ctx.textBaseline = "middle";
  ctx.fillText(s, x, y);
}

// =========================
// DECOR (title, legend, labels)
// =========================
function decor(p) {
  return {
    id: "decor",
    beforeDatasetsDraw(chart) {
      const { ctx, chartArea: a } = chart;
      ctx.save();
      ctx.strokeStyle = "#a6ab98";
      ctx.lineWidth = 1.5;
      ctx.setLineDash([2, 2]);
      ctx.beginPath();
      ctx.moveTo(a.left, a.top + 0.5);
      ctx.lineTo(a.right, a.top + 0.5);
      ctx.stroke();
      ctx.restore();
    },
    // zero line goes over the plume but under Ensgem / Control / Oper
    beforeDatasetDraw(chart, args) {
      if (!p.zeroLine || args.index !== 2) return;
      const { ctx, chartArea: a, scales } = chart;
      const y0 = scales.y.getPixelForValue(0);
      ctx.save();
      ctx.strokeStyle = OLIVE;
      ctx.lineWidth = 2.5;
      ctx.beginPath();
      ctx.moveTo(a.left, y0);
      ctx.lineTo(a.right, y0);
      ctx.stroke();
      ctx.restore();
    },
    afterDraw(chart) {
      const { ctx, chartArea: a, scales } = chart;
      const H = chart.height;
      ctx.save();

      // title
      const tf = "bold 12.5px " + FONT;
      txt(ctx, "(Startdatum: 2010013112)", 100, 14, tf, OLIVE, "left");
      txt(ctx, "Maandag", 265, 14, tf, OLIVE, "left");
      txt(ctx, "1 Februari", 335, 14, tf, OLIVE, "left");
      txt(ctx, "2010", 402, 14, tf, OLIVE, "left");

      // station + parameter
      txt(ctx, "De Bilt", 441, 39, "bold 10px " + FONT, "#3f4530");
      txt(ctx, p.param, 441, 51, "bold 10px " + FONT, "#3f4530");

      // legend box
      const rows = p.mos ? [38.5, 50, 61, 71.5] : [44, 55.5, 67];
      const boxH = p.mos ? 58 : 60;
      ctx.fillStyle = "#fff";
      ctx.fillRect(a.left + 1, a.top + 1, 103, boxH - 1);
      ctx.setLineDash([1, 2]);
      ctx.strokeStyle = "#6a7048";
      ctx.lineWidth = 1;
      ctx.strokeRect(a.left + 0.5, a.top + 0.5, 104, boxH);
      const samples = [
        { name: "Ensgem",  color: ENS,  width: 2.5, dash: [2, 3] },
        { name: "Control", color: BLUE, width: 3.5, dash: [9, 4] },
        { name: "Oper",    color: RED,  width: 3.5, dash: [] }
      ];
      samples.forEach((s, i) => {
        ctx.setLineDash(s.dash);
        ctx.strokeStyle = s.color;
        ctx.lineWidth = s.width;
        ctx.beginPath();
        ctx.moveTo(61, rows[i]);
        ctx.lineTo(92, rows[i]);
        ctx.stroke();
        txt(ctx, s.name, 126, rows[i], "bold 10.5px " + FONT, LBLUE);
      });
      if (p.mos) {
        ctx.setLineDash([]);
        ctx.fillStyle = "#6a4a34";
        ctx.beginPath();
        ctx.arc(77, rows[3], 3, 0, Math.PI * 2);
        ctx.fill();
        txt(ctx, "MOS TnTx", 125, rows[3], "bold 10.5px " + FONT, LBLUE);
      }
      ctx.setLineDash([]);

      // y axis titles
      const yc = (a.top + a.bottom) / 2;
      [29, 523].forEach(xx => {
        ctx.save();
        ctx.translate(xx, yc);
        ctx.rotate(-Math.PI / 2);
        txt(ctx, p.unit, 0, 0, "bold 16.5px " + FONT, OLIVE);
        ctx.restore();
      });

      // x axis labels
      const x = scales.x;
      ctx.strokeStyle = OLIVE;
      ctx.lineWidth = 1;
      for (let h = 0; h <= 240; h += 12) {
        const px = x.getPixelForValue(h);
        ctx.beginPath();
        ctx.moveTo(px, a.bottom);
        ctx.lineTo(px, a.bottom + 3);
        ctx.stroke();
        if (h % 24 === 0) {
          txt(ctx, dayNames[h / 24], px, 236, "bold 12px " + FONT, OLIVE);
          if (h !== 120) txt(ctx, "12", px, 251.5, "7px " + FONT, OLIVE);
        } else {
          txt(ctx, "00", px, 235, "bold 7px " + FONT, OLIVE);
        }
      }
      txt(ctx, "Dag", 273, 250, "bold 17px " + FONT, OLIVE);
      txt(ctx, "Bron: ECMWF/KNMI", 441, 257.5, "bold 10px " + FONT, LBLUE, "left");

      // frame
      ctx.strokeStyle = "#b4bcb4";
      ctx.lineWidth = 2;
      ctx.beginPath();
      ctx.moveTo(1, 0);
      ctx.lineTo(1, H);
      ctx.stroke();
      ctx.strokeStyle = "#3a3ae0";
      ctx.lineWidth = 1;
      ctx.setLineDash([1, 2]);
      ctx.beginPath();
      ctx.moveTo(0, H - 1.5); ctx.lineTo(552, H - 1.5);
      ctx.moveTo(550.5, 0); ctx.lineTo(550.5, H);
      if (p.top) { ctx.moveTo(0, 0.5); ctx.lineTo(552, 0.5); }
      ctx.stroke();

      ctx.restore();
    }
  };
}

// =========================
// PANEL
// =========================
function panel(id, p) {
  const pattern = stipple();
  const tickFont = { family: FONT, size: 12.5, weight: "bold" };
  const yMin = p.ticks[0], yMax = p.ticks[p.ticks.length - 1];
  const step = p.ticks[1] - p.ticks[0];

  const datasets = [
    { label: "Oper", data: pts(p.oper), borderColor: RED, borderWidth: 3.5, order: 0 },
    { label: "Control", data: pts(p.control), borderColor: BLUE, borderWidth: 3.5, borderDash: [9, 5], order: 1 },
    { label: "Ensgem", data: pts(p.ensgem), borderColor: ENS, borderWidth: 2.5, borderDash: [2, 3], order: 2 }
  ];
  p.members.forEach(m => {
    datasets.push({ data: pts(m), borderColor: GREEN, borderWidth: 1, order: 3 });
  });
  datasets.push({ data: pts(p.coreHi), borderWidth: 0, borderColor: "rgba(0,0,0,0)", backgroundColor: pattern, fill: "+1", order: 4 });
  datasets.push({ data: pts(p.coreLo), borderWidth: 0, borderColor: "rgba(0,0,0,0)", order: 5 });

  const yAxis = pos => ({
    position: pos,
    min: yMin,
    max: yMax,
    ticks: { stepSize: step, color: OLIVE, font: tickFont, padding: pos === "left" ? 2 : 1 },
    grid: { drawOnChartArea: false, tickLength: 6, color: OLIVE, lineWidth: 1.2 },
    border: { color: OLIVE, width: 1.5 },
    afterFit: s => { s.width = pos === "left" ? 58 : 63; }
  });

  return new Chart(document.getElementById(id), {
    type: "line",
    data: { datasets },
    options: {
      responsive: false,
      animation: false,
      devicePixelRatio: 1,
      layout: { padding: { top: 25, left: 0, right: 0, bottom: 0 } },
      elements: { point: { radius: 0 }, line: { tension: 0, fill: false } },
      plugins: { legend: { display: false }, tooltip: { enabled: false }, title: { display: false } },
      scales: {
        x: {
          type: "linear", min: 0, max: 240,
          ticks: { display: false },
          grid: { display: false },
          border: { color: OLIVE, width: 1.5 },
          afterFit: s => { s.height = 40; }
        },
        y: yAxis("left"),
        y2: yAxis("right")
      }
    },
    plugins: [decor(p)]
  });
}

// =========================
// INIT
// =========================
panel("c1", {
  param: "Neerslag", unit: "mm", ticks: precipTicks, top: true,
  oper: precipOper, control: precipControl, ensgem: precipEnsgem,
  members: precipMembers, coreLo: precipCoreLo, coreHi: precipCoreHi
});
panel("c2", {
  param: "10m wind", unit: "m/s", ticks: windTicks,
  oper: windOper, control: windControl, ensgem: windEnsgem,
  members: windMembers, coreLo: windCoreLo, coreHi: windCoreHi
});
panel("c3", {
  param: "T2m", unit: "Celsius", ticks: tempTicks, mos: true, zeroLine: true,
  oper: tempOper, control: tempControl, ensgem: tempEnsgem,
  members: tempMembers, coreLo: tempCoreLo, coreHi: tempCoreHi
});
</script>
</body>
</html>
